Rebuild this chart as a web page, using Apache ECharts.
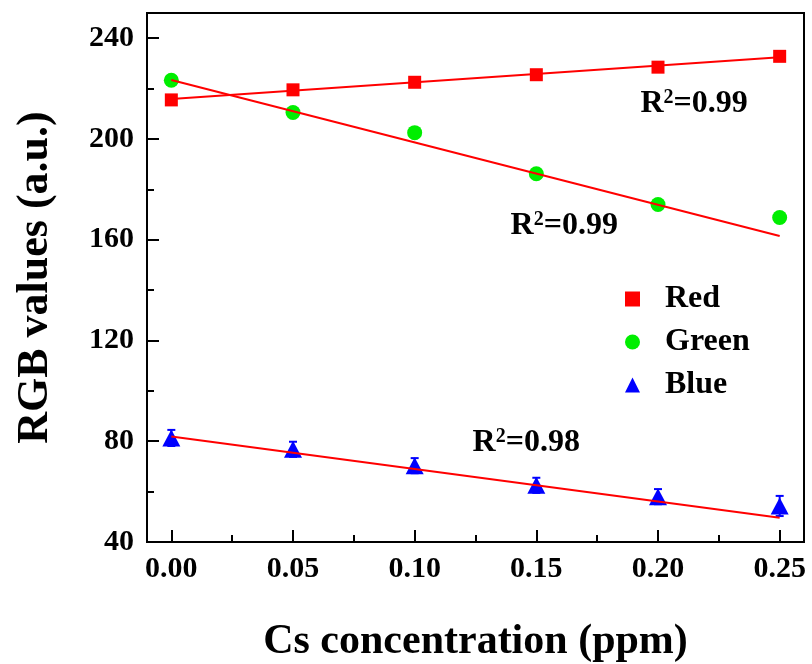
<!DOCTYPE html>
<html><head><meta charset="utf-8">
<script src="https://cdn.jsdelivr.net/npm/echarts@6/dist/echarts.min.js"></script>
<style>html,body{margin:0;padding:0;background:#fff}#c{width:812px;height:664px}</style>
</head><body><div id="c"></div>
<script>
const xValues = [0, 0.05, 0.10, 0.15, 0.20, 0.25];
const redValues = [215.5, 219.5, 222.5, 225.5, 228.5, 232.8];
const greenValues = [223.3, 210.5, 202.5, 186.2, 174.0, 168.8];
const blueValues = [81.3, 76.8, 70.3, 62.5, 58.0, 54.3];
const blueErrors = [3.2, 3.0, 3.0, 3.0, 3.0, 4.0];
const redFit = [[0, 215.9], [0.25, 232.4]];
const greenFit = [[0, 223.4], [0.25, 161.5]];
const blueFit = [[0, 81.9], [0.25, 49.6]];
const xTicks = [0, 0.05, 0.10, 0.15, 0.20, 0.25];
const xMinorTicks = [0.025, 0.075, 0.125, 0.175, 0.225];
const annotations = [
  {x: 0.1928, y: 213.8, text: '0.99'},
  {x: 0.1394, y: 165.6, text: '0.99'},
  {x: 0.1238, y: 79.4, text: '0.98'}
];

const FONT = '"Liberation Serif", "Times New Roman", serif';
const chart = echarts.init(document.getElementById('c'));
const pair = (xs, ys) => xs.map((x, i) => [x, ys[i]]);

const axisCommon = {
  axisLine: {show: true, onZero: false, lineStyle: {color: '#000', width: 2}},
  splitLine: {show: false}
};

const option = {
  animation: false,
  backgroundColor: '#fff',
  grid: {left: 147, top: 13, right: 8, bottom: 122, show: true, borderColor: '#000', borderWidth: 2,
    backgroundColor: 'transparent', containLabel: false, outerBoundsMode: 'none'},
  legend: {
    orient: 'vertical', left: 620, top: 278, itemGap: 11, itemWidth: 15, itemHeight: 15,
    textStyle: {fontFamily: FONT, fontWeight: 'bold', fontSize: 32, color: '#000', padding: [0, 0, 0, 20]},
    data: [
      {name: 'Red', icon: 'rect', itemStyle: {color: '#ff0000', opacity: 1}},
      {name: 'Green', icon: 'circle', itemStyle: {color: '#00ee00', opacity: 1}},
      {name: 'Blue', icon: 'triangle', itemStyle: {color: '#0000ff', opacity: 1}}
    ]
  },
  xAxis: [{
    type: 'value', min: -0.01, max: 0.26, ...axisCommon,
    name: 'Cs concentration (ppm)', nameLocation: 'middle', nameGap: 79,
    nameTextStyle: {fontFamily: FONT, fontWeight: 'bold', fontSize: 42, color: '#000'},
    axisTick: {show: true, inside: true, length: 12, lineStyle: {color: '#000', width: 2}, customValues: xTicks},
    axisLabel: {show: true, margin: 12, fontFamily: FONT, fontWeight: 'bold', fontSize: 30, color: '#000',
      customValues: xTicks, formatter: v => v.toFixed(2)}
  }, {
    type: 'value', min: -0.01, max: 0.26, position: 'bottom',
    axisLine: {show: false}, splitLine: {show: false}, axisLabel: {show: false},
    axisTick: {show: true, inside: true, length: 7, lineStyle: {color: '#000', width: 2}, customValues: xMinorTicks}
  }],
  yAxis: {
    type: 'value', min: 40, max: 250, interval: 40, ...axisCommon,
    name: 'RGB values (a.u.)', nameLocation: 'middle', nameGap: 89, nameRotate: 90,
    nameTextStyle: {fontFamily: FONT, fontWeight: 'bold', fontSize: 44, color: '#000'},
    axisTick: {show: true, inside: true, length: 12, lineStyle: {color: '#000', width: 2}},
    minorTick: {show: true, splitNumber: 2, length: 7, lineStyle: {color: '#000', width: 2}},
    axisLabel: {margin: 13, fontFamily: FONT, fontWeight: 'bold', fontSize: 30, color: '#000',
      formatter: v => (v > 240 ? '' : v)}
  },
  series: [
    {name: 'RedFit', type: 'line', data: redFit, symbol: 'none', lineStyle: {color: '#ff0000', width: 2}, z: 2, silent: true},
    {name: 'GreenFit', type: 'line', data: greenFit, symbol: 'none', lineStyle: {color: '#ff0000', width: 2}, z: 2, silent: true},
    {name: 'BlueFit', type: 'line', data: blueFit, symbol: 'none', lineStyle: {color: '#ff0000', width: 2}, z: 4, silent: true},
    {
      name: 'BlueErr', type: 'custom', z: 2,
      data: xValues.map((x, i) => [x, blueValues[i] - blueErrors[i], blueValues[i] + blueErrors[i]]),
      renderItem: (params, api) => {
        const lo = api.coord([api.value(0), api.value(1)]);
        const hi = api.coord([api.value(0), api.value(2)]);
        const w = 4;
        const st = {stroke: '#0000ff', lineWidth: 2};
        return {type: 'group', children: [
          {type: 'line', shape: {x1: lo[0], y1: lo[1], x2: hi[0], y2: hi[1]}, style: st},
          {type: 'line', shape: {x1: lo[0] - w, y1: lo[1], x2: lo[0] + w, y2: lo[1]}, style: st},
          {type: 'line', shape: {x1: hi[0] - w, y1: hi[1], x2: hi[0] + w, y2: hi[1]}, style: st}
        ]};
      }
    },
    {name: 'Red', type: 'scatter', data: pair(xValues, redValues), symbol: 'rect', symbolSize: 13, itemStyle: {color: '#ff0000', opacity: 1}, z: 3},
    {name: 'Green', type: 'scatter', data: pair(xValues, greenValues), symbol: 'circle', symbolSize: 15, itemStyle: {color: '#00ee00', opacity: 1}, z: 1},
    {name: 'Blue', type: 'scatter', data: pair(xValues, blueValues), symbol: 'triangle', symbolSize: [18, 17], itemStyle: {color: '#0000ff', opacity: 1}, z: 3}
  ]
};
chart.setOption(option);

const graphics = annotations.map(a => {
  const p = chart.convertToPixel({xAxisIndex: 0, yAxisIndex: 0}, [a.x, a.y]);
  return {
    type: 'text', x: p[0], y: p[1],
    style: {
      text: '{b|R}{s|2}{b|=' + a.text + '}',
      verticalAlign: 'middle',
      rich: {
        b: {fontFamily: FONT, fontWeight: 'bold', fontSize: 32, fill: '#000', verticalAlign: 'bottom'},
        s: {fontFamily: FONT, fontWeight: 'bold', fontSize: 20, fill: '#000', verticalAlign: 'top'}
      }
    }
  };
});
chart.setOption({graphic: graphics});
</script>
</body></html>
